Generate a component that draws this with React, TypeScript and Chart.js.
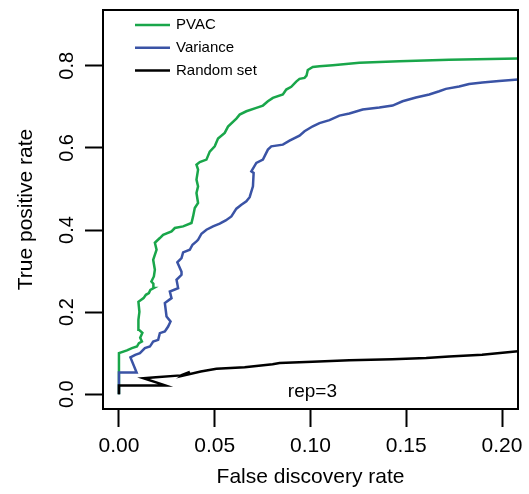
import React, { useEffect, useRef } from "react";
import { Chart, registerables } from "chart.js";

Chart.register(...registerables);

// ---- data ----
const pvacX = [0, 0, 0.00417, 0.00677, 0.00938, 0.01042, 0.01198, 0.01109, 0.01224, 0.01042, 0.01016, 0.01068, 0.01016, 0.01286, 0.01406, 0.01563, 0.01641, 0.01807, 0.01797, 0.01693, 0.01823, 0.01875, 0.01786, 0.01964, 0.01875, 0.02135, 0.02307, 0.02745, 0.02917, 0.03349, 0.03786, 0.0387, 0.03958, 0.0413, 0.04047, 0.0413, 0.04047, 0.0413, 0.04047, 0.04219, 0.04568, 0.0474, 0.05, 0.05172, 0.05521, 0.05693, 0.0613, 0.06302, 0.06651, 0.07172, 0.07516, 0.07776, 0.08036, 0.08557, 0.08734, 0.08995, 0.09255, 0.09427, 0.09688, 0.09792, 0.09859, 0.1012, 0.10469, 0.11161, 0.12552, 0.14635, 0.1724, 0.2083];
const pvacY = [0, 0.1, 0.1068, 0.1122, 0.1161, 0.1244, 0.1283, 0.1373, 0.1495, 0.1568, 0.1812, 0.2007, 0.2251, 0.2341, 0.2422, 0.2463, 0.2544, 0.2585, 0.269, 0.2746, 0.2868, 0.3032, 0.3276, 0.352, 0.369, 0.3805, 0.3885, 0.3966, 0.4049, 0.4088, 0.4171, 0.4332, 0.4537, 0.4659, 0.4902, 0.5063, 0.5227, 0.5471, 0.5593, 0.5654, 0.5715, 0.591, 0.6039, 0.6227, 0.6366, 0.652, 0.6715, 0.6812, 0.6893, 0.6976, 0.7032, 0.7137, 0.722, 0.73, 0.7422, 0.7488, 0.7617, 0.7683, 0.7707, 0.7763, 0.7898, 0.7971, 0.799, 0.8015, 0.8073, 0.8112, 0.8146, 0.818];

const varX = [0, 0, 0.00922, 0.00599, 0.00849, 0.01094, 0.01354, 0.01615, 0.01786, 0.02047, 0.02135, 0.02396, 0.02568, 0.02693, 0.02484, 0.02396, 0.02745, 0.02656, 0.03089, 0.03005, 0.03266, 0.03266, 0.03047, 0.03266, 0.03349, 0.03698, 0.03839, 0.04047, 0.0413, 0.04307, 0.04568, 0.04911, 0.0526, 0.05573, 0.0587, 0.0613, 0.06391, 0.06651, 0.06823, 0.06995, 0.07031, 0.06911, 0.07172, 0.07516, 0.07776, 0.07953, 0.08557, 0.08906, 0.09427, 0.09688, 0.1012, 0.10469, 0.1099, 0.1151, 0.12031, 0.12724, 0.13594, 0.14286, 0.14807, 0.15505, 0.16198, 0.16719, 0.17068, 0.1776, 0.18281, 0.18974, 0.19844, 0.2083];
const varY = [0, 0.0527, 0.0527, 0.0898, 0.0959, 0.1, 0.1122, 0.1161, 0.1283, 0.1324, 0.1488, 0.1527, 0.1649, 0.1771, 0.1893, 0.222, 0.2341, 0.2502, 0.2585, 0.2788, 0.291, 0.2983, 0.3215, 0.3317, 0.3454, 0.352, 0.3641, 0.3722, 0.3763, 0.391, 0.4007, 0.4088, 0.4154, 0.4234, 0.4332, 0.452, 0.4617, 0.4698, 0.48, 0.5063, 0.539, 0.5429, 0.5634, 0.5715, 0.5959, 0.6039, 0.608, 0.6178, 0.63, 0.6405, 0.6527, 0.6605, 0.6678, 0.6788, 0.6837, 0.6934, 0.6983, 0.7032, 0.7137, 0.7227, 0.73, 0.738, 0.7439, 0.7495, 0.7556, 0.7593, 0.7629, 0.7666];

const randX = [0, 0, 0.02422, 0.01276, 0.01927, 0.03229, 0.03698, 0.03385, 0.04271, 0.05089, 0.06563, 0.08021, 0.08385, 0.10104, 0.12031, 0.14271, 0.16042, 0.1724, 0.18958, 0.2083];
const randY = [0, 0.0215, 0.0215, 0.039, 0.0415, 0.0459, 0.0544, 0.0459, 0.0554, 0.0619, 0.0656, 0.0729, 0.0759, 0.079, 0.0827, 0.0851, 0.088, 0.0919, 0.0961, 0.1046];

const seriesLabels = ["PVAC", "Variance", "Random set"];
const seriesColors = ["#19a64a", "#3a53a5", "#000000"];
const xTicks = [0, 0.05, 0.1, 0.15, 0.2];
const yTicks = [0, 0.2, 0.4, 0.6, 0.8];
const xTitle = "False discovery rate";
const yTitle = "True positive rate";
const noteText = "rep=3";

const FONT = "'Liberation Sans', Arial, Helvetica, sans-serif";

export default function App() {
  const ref = useRef<HTMLCanvasElement>(null);

  useEffect(() => {
    const canvas = ref.current;
    if (!canvas) return;
    const toPts = (xs: number[], ys: number[]) => xs.map((x, i) => ({ x, y: ys[i] }));

    const framePlugin = {
      id: "frameAndLegend",
      afterDraw(chart: any) {
        const { ctx, chartArea: a, scales } = chart;
        ctx.save();
        ctx.strokeStyle = "#000";
        ctx.lineWidth = 2;
        ctx.strokeRect(a.left, a.top, a.right - a.left, a.bottom - a.top);
        // legend
        ctx.font = `15px ${FONT}`;
        ctx.textBaseline = "middle";
        ctx.textAlign = "left";
        chart.data.datasets.forEach((ds: any, i: number) => {
          const y = a.top + 15 + i * 22.8;
          ctx.strokeStyle = ds.borderColor;
          ctx.lineWidth = 2.5;
          ctx.beginPath();
          ctx.moveTo(a.left + 32, y);
          ctx.lineTo(a.left + 67, y);
          ctx.stroke();
          ctx.fillStyle = "#000";
          ctx.fillText(ds.label, a.left + 73, y);
        });
        // note
        ctx.font = `19px ${FONT}`;
        ctx.textAlign = "center";
        ctx.fillStyle = "#000";
        ctx.fillText(noteText, scales.x.getPixelForValue(0.101), a.bottom - 17);
        ctx.restore();
      },
    };

    const chart = new Chart(canvas, {
      type: "line",
      data: {
        datasets: [
          { label: seriesLabels[0], data: toPts(pvacX, pvacY), borderColor: seriesColors[0], order: 3 },
          { label: seriesLabels[1], data: toPts(varX, varY), borderColor: seriesColors[1], order: 2 },
          { label: seriesLabels[2], data: toPts(randX, randY), borderColor: seriesColors[2], order: 1 },
        ] as any,
      },
      options: {
        responsive: false,
        animation: false,
        parsing: false as any,
        layout: { padding: { left: 0, right: 11, top: 10, bottom: 0 } },
        elements: {
          line: { borderWidth: 2.5, tension: 0, fill: false },
          point: { radius: 0, hoverRadius: 0 },
        },
        plugins: { legend: { display: false }, tooltip: { enabled: false } },
        events: [],
        scales: {
          x: {
            type: "linear",
            min: -0.00833,
            max: 0.20833,
            afterBuildTicks: (s: any) => {
              s.ticks = xTicks.map((v) => ({ value: v }));
            },
            afterFit: (s: any) => {
              s.height = 85;
              s.paddingLeft = 0;
              s.paddingRight = 0;
            },
            grid: { display: true, drawOnChartArea: false, drawTicks: true, tickLength: 18, tickWidth: 2, tickColor: "#000" },
            border: { display: false },
            ticks: {
              color: "#000",
              autoSkip: false,
              maxRotation: 0,
              minRotation: 0,
              padding: 7,
              font: { size: 21, family: FONT },
              callback: (v: any) => Number(v).toFixed(2),
            },
            title: { display: true, text: xTitle, color: "#000", font: { size: 21, family: FONT }, padding: { top: 0, bottom: 4 } },
          },
          y: {
            type: "linear",
            min: -0.036,
            max: 0.936,
            afterBuildTicks: (s: any) => {
              s.ticks = yTicks.map((v) => ({ value: v }));
            },
            afterFit: (s: any) => {
              s.width = 103;
              s.paddingTop = 0;
              s.paddingBottom = 0;
            },
            grid: { display: true, drawOnChartArea: false, drawTicks: true, tickLength: 18, tickWidth: 2, tickColor: "#000" },
            border: { display: false },
            ticks: {
              color: "#000",
              autoSkip: false,
              minRotation: 90,
              maxRotation: 90,
              crossAlign: "center",
              padding: 4,
              font: { size: 20, family: FONT },
              callback: (v: any) => Number(v).toFixed(1),
            },
            title: { display: true, text: yTitle, color: "#000", font: { size: 21, family: FONT }, padding: { top: 14, bottom: 0 } },
          },
        },
      } as any,
      plugins: [framePlugin],
    });

    return () => chart.destroy();
  }, []);

  return (
    <canvas
      ref={ref}
      width={529}
      height={494}
      style={{ position: "absolute", left: 0, top: 0, display: "block", width: 529, height: 494 }}
    />
  );
}
